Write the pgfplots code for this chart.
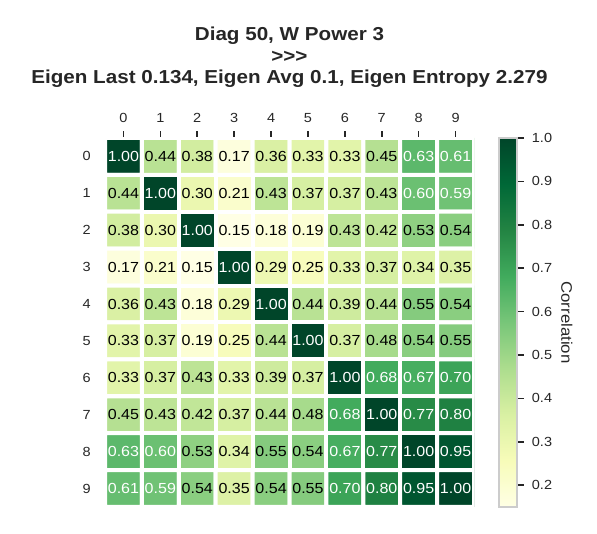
\documentclass[border=0pt]{standalone}
\usepackage{pgfplots}
\pgfplotsset{compat=1.18}
\usepackage{pgfplotstable}
\usepackage{fontspec}
\setmainfont[FakeStretch=1.1]{Liberation Sans}
\definecolor{txt}{HTML}{262626}
\pgfplotsset{
  colormap={ylgn}{rgb255=(255,255,229) rgb255=(247,252,185) rgb255=(217,240,163)
    rgb255=(173,221,142) rgb255=(120,198,121) rgb255=(65,171,93)
    rgb255=(35,132,67) rgb255=(0,104,55) rgb255=(0,69,41)},
}
\pgfplotstableread{
x y v
0 0 1.00
1 0 0.44
2 0 0.38
3 0 0.17
4 0 0.36
5 0 0.33
6 0 0.33
7 0 0.45
8 0 0.63
9 0 0.61
0 1 0.44
1 1 1.00
2 1 0.30
3 1 0.21
4 1 0.43
5 1 0.37
6 1 0.37
7 1 0.43
8 1 0.60
9 1 0.59
0 2 0.38
1 2 0.30
2 2 1.00
3 2 0.15
4 2 0.18
5 2 0.19
6 2 0.43
7 2 0.42
8 2 0.53
9 2 0.54
0 3 0.17
1 3 0.21
2 3 0.15
3 3 1.00
4 3 0.29
5 3 0.25
6 3 0.33
7 3 0.37
8 3 0.34
9 3 0.35
0 4 0.36
1 4 0.43
2 4 0.18
3 4 0.29
4 4 1.00
5 4 0.44
6 4 0.39
7 4 0.44
8 4 0.55
9 4 0.54
0 5 0.33
1 5 0.37
2 5 0.19
3 5 0.25
4 5 0.44
5 5 1.00
6 5 0.37
7 5 0.48
8 5 0.54
9 5 0.55
0 6 0.33
1 6 0.37
2 6 0.43
3 6 0.33
4 6 0.39
5 6 0.37
6 6 1.00
7 6 0.68
8 6 0.67
9 6 0.70
0 7 0.45
1 7 0.43
2 7 0.42
3 7 0.37
4 7 0.44
5 7 0.48
6 7 0.68
7 7 1.00
8 7 0.77
9 7 0.80
0 8 0.63
1 8 0.60
2 8 0.53
3 8 0.34
4 8 0.55
5 8 0.54
6 8 0.67
7 8 0.77
8 8 1.00
9 8 0.95
0 9 0.61
1 9 0.59
2 9 0.54
3 9 0.35
4 9 0.54
5 9 0.55
6 9 0.70
7 9 0.80
8 9 0.95
9 9 1.00
}\corr
\begin{document}
\begin{tikzpicture}
\path[use as bounding box] (0,0) rectangle (429.84pt,-383.76pt);
\node[align=center, font=\bfseries\fontsize{13.5}{15.4}\selectfont, text=txt]
  at (208.4pt,-41.2pt) {Diag 50, W Power 3\\>{}>{}>\\Eigen Last 0.134, Eigen Avg 0.1, Eigen Entropy 2.279};
\node[rotate=-90, font=\fontsize{11}{13}\selectfont, text=txt] at (408.2pt,-232.2pt) {Correlation};
\begin{axis}[
  at={(75.6pt,-365pt)}, anchor=south west,
  scale only axis, width=265.7pt, height=265.7pt,
  xmin=-0.5, xmax=9.5, ymin=-0.5, ymax=9.5,
  y dir=reverse,
  colormap name=ylgn,
  point meta min=0.15, point meta max=1.0,
  axis line style={draw=none},
  xtick={0,...,9}, ytick={0,...,9},
  xticklabel pos=right, xtick pos=right,
  tick align=outside,
  x tick style={txt, line width=1.1pt},
  y tick style={draw=none},
  major tick length=4.7pt,
  ticklabel style={font=\fontsize{9.5}{11}\selectfont, text=txt},
  xticklabel style={yshift=2.8pt},
  yticklabel style={xshift=-2pt},
  /pgf/number format/assume math mode=true,
  colorbar,
  colorbar style={
    at={(parent axis.north east)}, anchor=north west, xshift=9.4pt,
    width=12.7pt,
    ytick={0.2,0.3,0.4,0.5,0.6,0.7,0.8,0.9,1.0},
    yticklabel style={font=\fontsize{9.5}{11}\selectfont, text=txt, xshift=2.5pt,
      /pgf/number format/fixed, /pgf/number format/precision=1,
      /pgf/number format/fixed zerofill, /pgf/number format/assume math mode=true},
    ytick pos=right, tick align=outside, major tick length=5pt,
    y tick style={txt, line width=1.1pt},
    axis line style={draw=black!20, line width=1.4pt},
  },
]
\addplot[matrix plot*, shader=faceted, faceted color=white, line width=2.9pt,
  mesh/cols=10, point meta=explicit] table[x=x,y=y,meta=v]{\corr};
\addplot[draw=none, mark=none, point meta=explicit,
  restrict expr to domain={\thisrow{v}}{0:0.57},
  nodes near coords={\pgfmathprintnumber[fixed,fixed zerofill,precision=2]{\pgfplotspointmeta}},
  nodes near coords style={anchor=center, font=\fontsize{10.5}{13}\selectfont, text=black}]
  table[x=x,y=y,meta=v]{\corr};
\addplot[draw=none, mark=none, point meta=explicit,
  restrict expr to domain={\thisrow{v}}{0.57:1.1},
  nodes near coords={\pgfmathprintnumber[fixed,fixed zerofill,precision=2]{\pgfplotspointmeta}},
  nodes near coords style={anchor=center, font=\fontsize{10.5}{13}\selectfont, text=white}]
  table[x=x,y=y,meta=v]{\corr};
\end{axis}
\end{tikzpicture}
\end{document}
